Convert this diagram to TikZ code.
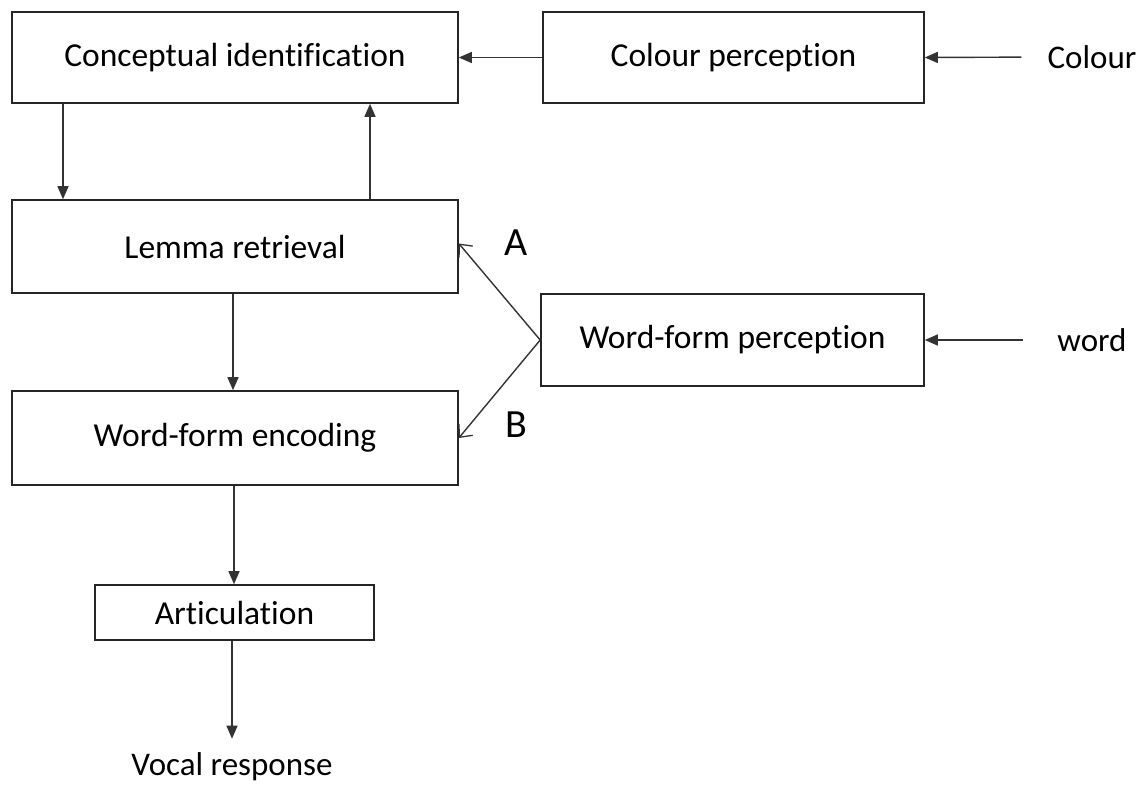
\documentclass[tikz,border=0pt]{standalone}
\usepackage{fontspec}
\setmainfont[Ligatures=CommonOff]{Carlito}
\usetikzlibrary{arrows.meta}
\begin{document}
\begin{tikzpicture}[x=1pt,y=-1pt,
  box/.style={draw=black!85,line width=1.6pt,inner sep=0pt,font=\fontsize{33.5}{39}\selectfont},
  lbl/.style={inner sep=0pt,font=\fontsize{33}{39}\selectfont},
  big/.style={inner sep=0pt,font=\fontsize{40}{46}\selectfont},
  arr/.style={line width=1.4pt,draw=black!80,-{Triangle[length=13pt,width=11pt]}},
  open/.style={line width=1.4pt,draw=black!80,-{Straight Barb[length=10pt,width=18pt,line width=1.3pt]}}]
\useasboundingbox (0,0) rectangle (1144,785);
\node[box,minimum width=446,minimum height=91] (ci) at (235,57.5) {Conceptual identification};
\node[box,minimum width=381,minimum height=91] (cp) at (733.5,57.5) {Colour perception};
\node[box,minimum width=446,minimum height=93] (lr) at (235,246.5) {Lemma retrieval};
\node[box,minimum width=383,minimum height=92] (wp) at (732.5,340) {Word-form perception};
\node[box,minimum width=446,minimum height=94] (we) at (235,438) {Word-form encoding};
\node[box,minimum width=279,minimum height=55] (ar) at (234.5,612.5) {Articulation};
\node[lbl] (col) at (1092,57) {Colour};
\node[lbl] (wd) at (1092,340) {word};
\node[lbl] (vr) at (232,767) {Vocal response};
\node[big] (a) at (516,243) {A};
\node[big] (b) at (516,425) {B};
\draw[arr] (cp.west) -- (ci.east);
\draw[arr,shorten <=26pt] (col.west) -- (cp.east);
\draw[arr,shorten <=34pt] (wd.west) -- (wp.east);
\draw[arr] (ci.south -| 63,0) -- (lr.north -| 63,0);
\draw[arr] (lr.north -| 370,0) -- (ci.south -| 370,0);
\draw[arr] (lr.south -| 233,0) -- (we.north -| 233,0);
\draw[arr] (we.south -| 234,0) -- (ar.north -| 234,0);
\draw[arr,shorten >=14pt] (ar.south -| 232,0) -- (vr.north -| 232,0);
\draw[open] (wp.west) -- ([yshift=3pt]lr.east);
\draw[open] (wp.west) -- (we.east);
\end{tikzpicture}
\end{document}
